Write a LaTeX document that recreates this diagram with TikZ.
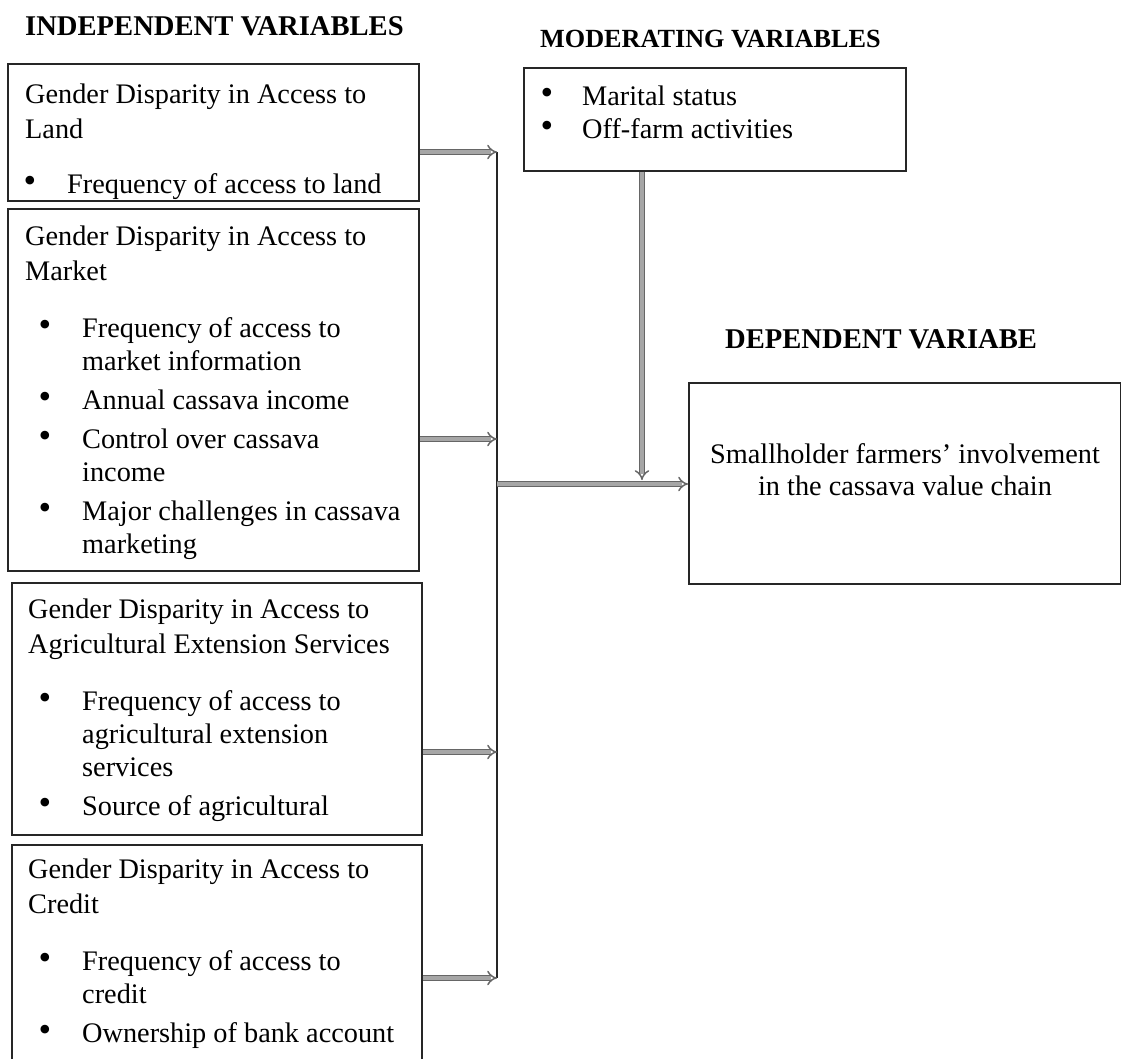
\documentclass[tikz,border=0pt]{standalone}
\usepackage{fontspec}
\setmainfont{Liberation Serif}
\usetikzlibrary{arrows.meta}
\begin{document}
\begin{tikzpicture}[x=1pt,y=-1pt,
  box/.style={draw=black!85, line width=1.8pt, inner sep=0pt, anchor=north west},
  txt/.style={anchor=base west, inner sep=0pt, font=\fontsize{28.3}{34}\selectfont},
  ttl/.style={anchor=base west, inner sep=0pt, font=\fontsize{28.6}{34}\selectfont\bfseries},
  bul/.style={anchor=base, inner sep=0pt, font=\fontsize{36}{36}\selectfont},
  ctr/.style={anchor=base, inner sep=0pt, font=\fontsize{28.3}{34}\selectfont},
  trunk/.style={draw=black!85, line width=1.8pt},
  arr/.style={-{Implies}, double, line width=1.5pt, double distance=3.4pt, draw=black!60, double=black!35}]
\useasboundingbox (0,0) rectangle (1121,1058);
\clip (0,0) rectangle (1121,1058);
\fill[white] (0,0) rectangle (1121,1058);

% titles
\node[ttl] (tind) at (25,35) {INDEPENDENT VARIABLES};
\node[ttl, font=\fontsize{26.2}{32}\selectfont\bfseries] (tmod) at (540,47) {MODERATING VARIABLES};
\node[ttl] (tdep) at (725,348) {DEPENDENT VARIABE};

% boxes
\node[box, minimum width=411pt, minimum height=137pt] (b1) at (7,63) {};
\node[box, minimum width=411pt, minimum height=362pt] (b2) at (7,208) {};
\node[box, minimum width=410pt, minimum height=252pt] (b3) at (11,582) {};
\node[box, minimum width=410pt, minimum height=260pt] (b4) at (11,844) {};
\node[box, minimum width=382pt, minimum height=103pt] (mod) at (523,67) {};
\node[box, minimum width=432pt, minimum height=201pt] (dep) at (688,382) {};

% box 1 text
\node[txt] (b1t1) at (25,103) {Gender Disparity in Access to};
\node[txt] (b1t2) at (25,138) {Land};
\begin{scope}
\clip (7,63) rectangle (418,199);
\node[bul] (b1b1) at (30,192) {•};
\node[txt] (b1i1) at (67,193) {Frequency of access to land};
\end{scope}

% box 2 text
\node[txt] (b2t1) at (25,245) {Gender Disparity in Access to};
\node[txt] (b2t2) at (25,280) {Market};
\node[bul] (b2b1) at (45,336) {•};
\node[txt] (b2i1) at (82,337) {Frequency of access to};
\node[txt] (b2i1b) at (82,370) {market information};
\node[bul] (b2b2) at (45,408) {•};
\node[txt] (b2i2) at (82,409) {Annual cassava income};
\node[bul] (b2b3) at (45,447) {•};
\node[txt] (b2i3) at (82,448) {Control over cassava};
\node[txt] (b2i3b) at (82,481) {income};
\node[bul] (b2b4) at (45,519) {•};
\node[txt] (b2i4) at (82,520) {Major challenges in cassava};
\node[txt] (b2i4b) at (82,553) {marketing};

% box 3 text
\node[txt] (b3t1) at (28,618) {Gender Disparity in Access to};
\node[txt] (b3t2) at (28,653) {Agricultural Extension Services};
\node[bul] (b3b1) at (45,709) {•};
\node[txt] (b3i1) at (82,710) {Frequency of access to};
\node[txt] (b3i1b) at (82,743) {agricultural extension};
\node[txt] (b3i1c) at (82,776) {services};
\node[bul] (b3b2) at (45,814) {•};
\node[txt] (b3i2) at (82,815) {Source of agricultural};

% box 4 text
\node[txt] (b4t1) at (28,878) {Gender Disparity in Access to};
\node[txt] (b4t2) at (28,913) {Credit};
\node[bul] (b4b1) at (45,969) {•};
\node[txt] (b4i1) at (82,970) {Frequency of access to};
\node[txt] (b4i1b) at (82,1003) {credit};
\node[bul] (b4b2) at (45,1041) {•};
\node[txt] (b4i2) at (82,1042) {Ownership of bank account};

% moderating text
\node[bul] (mb1) at (547,104) {•};
\node[txt] (mi1) at (582,105) {Marital status};
\node[bul] (mb2) at (547,137) {•};
\node[txt] (mi2) at (582,138) {Off-farm activities};

% dependent text
\node[ctr] (d1) at (905,463) {Smallholder farmers’ involvement};
\node[ctr] (d2) at (905,495) {in the cassava value chain};

% connectors
\coordinate (j1) at (497,152);
\coordinate (j2) at (497,439);
\coordinate (j3) at (497,752);
\coordinate (j4) at (497,978);
\coordinate (j5) at (497,484);
\coordinate (m) at (642,480);
\draw[trunk] (j1) -- (j4);
\draw[arr] (b1.east |- j1) -- (j1);
\draw[arr] (b2.east |- j2) -- (j2);
\draw[arr] (b3.east |- j3) -- (j3);
\draw[arr] (b4.east |- j4) -- (j4);
\draw[arr] (j5) -- (dep.west |- j5);
\draw[arr] (mod.south -| m) -- (m);
\end{tikzpicture}
\end{document}
